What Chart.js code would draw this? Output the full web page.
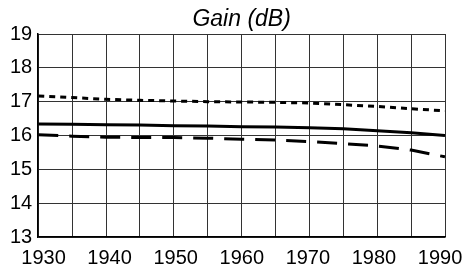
<!DOCTYPE html>
<html>
<head>
<meta charset="utf-8">
<script src="https://cdn.jsdelivr.net/npm/chart.js@4.4.1/dist/chart.umd.min.js"></script>
<style>
  html, body { margin: 0; padding: 0; background: #fff; }
  #grafico_ganho { display: block; }
</style>
</head>
<body>
<canvas id="grafico_ganho" width="463" height="268"></canvas>
<script>
// anos (eixo x) e valores de ganho
const anos = [1930, 1935, 1940, 1945, 1950, 1955, 1960, 1965, 1970, 1975, 1980, 1985, 1990];
const ganhoPontilhado = [17.17, 17.12, 17.07, 17.04, 17.02, 17.0, 16.99, 16.98, 16.96, 16.91, 16.86, 16.79, 16.73];
const ganhoSolido = [16.34, 16.33, 16.32, 16.31, 16.29, 16.28, 16.26, 16.25, 16.23, 16.2, 16.14, 16.08, 16.0];
const ganhoTracejado = [16.02, 15.98, 15.95, 15.94, 15.94, 15.92, 15.89, 15.87, 15.82, 15.76, 15.69, 15.57, 15.37];
const rotulosAnos = [1930, 1940, 1950, 1960, 1970, 1980, 1990];
const rotulosGanho = [13, 14, 15, 16, 17, 18, 19];

const fonte = "'Liberation Sans', Arial, sans-serif";
const pontos = valores => anos.map((ano, i) => ({ x: ano, y: valores[i] }));

const ctx = document.getElementById('grafico_ganho').getContext('2d');
new Chart(ctx, {
    type: 'line',
    data: {
        datasets: [
            {
                label: 'pontilhado',
                data: pontos(ganhoPontilhado),
                borderColor: '#000',
                borderWidth: 3,
                borderDash: [6, 5],
                pointRadius: 0,
                xAxisID: 'x',
                yAxisID: 'y',
            },
            {
                label: 'solido',
                data: pontos(ganhoSolido),
                borderColor: '#000',
                borderWidth: 3,
                pointRadius: 0,
                xAxisID: 'x',
                yAxisID: 'y',
            },
            {
                label: 'tracejado',
                data: pontos(ganhoTracejado),
                borderColor: '#000',
                borderWidth: 3,
                borderDash: [20, 11],
                pointRadius: 0,
                xAxisID: 'x',
                yAxisID: 'y',
            },
        ],
    },
    options: {
        responsive: false,
        animation: false,
        layout: { padding: { left: 10, right: 18, top: 0, bottom: 0 } },
        plugins: {
            legend: { display: false },
            tooltip: { enabled: false },
            title: {
                display: true,
                fullSize: false,
                text: 'Gain (dB)',
                color: '#000',
                font: { family: fonte, size: 23, style: 'italic', weight: 'normal', lineHeight: 1.2 },
                padding: { top: 6, bottom: 0.4 },
            },
        },
        scales: {
            x: {
                type: 'linear',
                position: 'bottom',
                min: 1930,
                max: 1990,
                grid: { color: '#333', lineWidth: 1, drawTicks: true, tickLength: 11, tickColor: 'rgba(0,0,0,0)' },
                border: { color: '#000', width: 1.5 },
                ticks: { display: false, stepSize: 5 },
            },
            xl: {
                type: 'linear',
                axis: 'x',
                position: 'bottom',
                min: 1929.2,
                max: 1990.75,
                grid: { display: false, drawTicks: false },
                border: { display: false },
                afterBuildTicks: escala => {
                    escala.ticks = rotulosAnos.map(v => ({ value: v }));
                },
                ticks: {
                    color: '#000',
                    padding: 0,
                    maxRotation: 0,
                    autoSkip: false,
                    callback: valor => String(valor),
                    font: { family: fonte, size: 20, lineHeight: 1.0 },
                },
            },
            y: {
                type: 'linear',
                min: 13,
                max: 19,
                afterBuildTicks: escala => {
                    escala.ticks = rotulosGanho.map(v => ({ value: v }));
                },
                grid: { color: '#333', lineWidth: 1, drawTicks: true, tickLength: 6, tickColor: 'rgba(0,0,0,0)' },
                border: { color: '#000', width: 1.5 },
                ticks: {
                    color: '#000',
                    padding: 0,
                    font: { family: fonte, size: 20 },
                },
            },
        },
    },
});
</script>
</body>
</html>
